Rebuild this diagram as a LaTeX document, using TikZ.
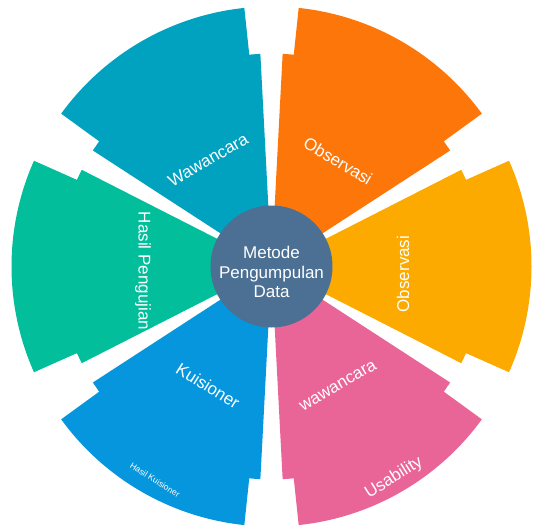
\documentclass[tikz,border=0pt]{standalone}
\usepackage{fontspec}
\setmainfont{Liberation Sans}
\definecolor{cTeal}{HTML}{00A2C0}
\definecolor{cOrange}{HTML}{FD760A}
\definecolor{cYellow}{HTML}{FDAA00}
\definecolor{cPink}{HTML}{EA6597}
\definecolor{cBlue}{HTML}{0596DE}
\definecolor{cGreen}{HTML}{03BE9A}
\definecolor{cCenter}{HTML}{4B7094}
\tikzset{
  lbl/.style={text=white, inner sep=0pt, font=\fontsize{17}{19.5}\selectfont},
  smalllbl/.style={text=white, inner sep=0pt, font=\fontsize{8.5}{10}\selectfont},
}
\newcommand{\petal}[2]{%
  \pgfmathsetmacro{\aA}{#1-30+3}%
  \pgfmathsetmacro{\aB}{#1-30+6}%
  \pgfmathsetmacro{\bB}{#1+30-6}%
  \pgfmathsetmacro{\bA}{#1+30-3}%
  \fill[#2] (0,0) -- (\aA:213pt) -- (\aB:213pt) -- (\aB:260pt)
    arc[start angle=\aB, end angle=\bB, radius=260pt]
    -- (\bB:213pt) -- (\bA:213pt) -- cycle;%
}
\begin{document}
\begin{tikzpicture}[x=1pt,y=1pt]
\useasboundingbox (0,0) rectangle (535,531);
\coordinate (C) at (271.5,264.5);
\begin{scope}[shift={(C)}]
  \petal{120}{cTeal}
  \petal{60}{cOrange}
  \petal{0}{cYellow}
  \petal{-60}{cPink}
  \petal{-120}{cBlue}
  \petal{180}{cGreen}
\end{scope}
\node[circle, fill=cCenter, minimum size=122pt, inner sep=0pt] (hub) at (C) {};
\node[lbl, align=center] (title) at (271.5,259) {Metode\\Pengumpulan\\Data};
\node[lbl, rotate=30] (l1) at (208,371) {Wawancara};
\node[lbl, rotate=-31] (l2) at (338,370) {Observasi};
\node[lbl, rotate=90] (l3) at (403,257) {Observasi};
\node[lbl, rotate=-90] (l4) at (143,260) {Hasil Pengujian};
\node[lbl, rotate=-32] (l5) at (208,145) {Kuisioner};
\node[smalllbl, rotate=-32] (l6) at (155,51) {Hasil Kuisioner};
\node[lbl, rotate=30] (l7) at (338,145) {wawancara};
\node[lbl, rotate=32] (l8) at (394,53) {Usability};
\end{tikzpicture}
\end{document}
